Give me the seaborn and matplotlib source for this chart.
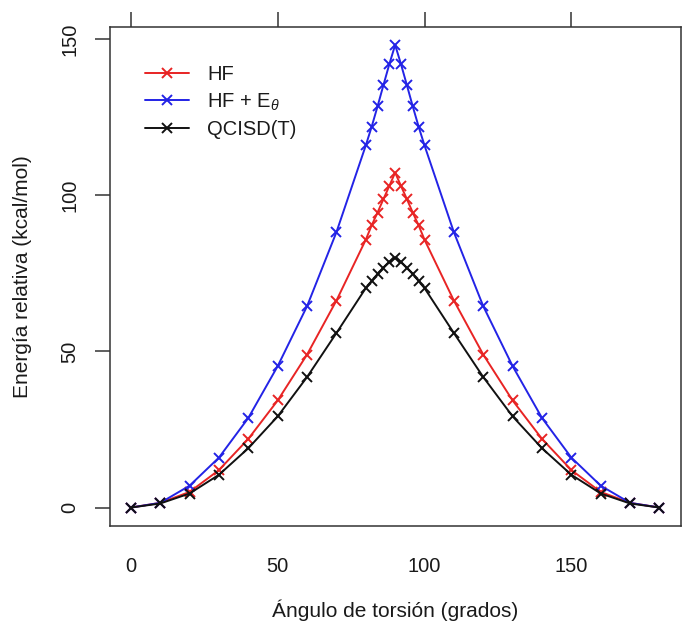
import matplotlib
matplotlib.use("Agg")
import matplotlib.pyplot as plt
import seaborn as sns
import pandas as pd

angles = [0, 10, 20, 30, 40, 50, 60, 70, 80, 82, 84, 86, 88, 90,
          92, 94, 96, 98, 100, 110, 120, 130, 140, 150, 160, 170, 180]
hf_left = [0, 1.5, 5, 12, 22, 34.3, 49, 66.3, 85.8, 90.4, 94.5, 98.8, 103, 107.3]
hfe_left = [0, 1.5, 7, 16, 28.7, 45.3, 64.5, 88.2, 116, 122, 128.5, 135.3, 142, 148.2]
qc_left = [0, 1.3, 4.5, 10.5, 19, 29.2, 41.8, 55.9, 70.3, 72.6, 74.8, 76.8, 78.6, 80.1]
hf = hf_left + hf_left[-2::-1]
hfe = hfe_left + hfe_left[-2::-1]
qc = qc_left + qc_left[-2::-1]

series_names = ["HF", r"HF + E$_{\theta}$", "QCISD(T)"]
series_values = [hf, hfe, qc]
series_colors = ["#e82424", "#2323e6", "#111111"]

sns.set_style("white")
plt.rcParams["font.family"] = ["Liberation Sans", "DejaVu Sans"]
plt.rcParams["mathtext.fontset"] = "custom"
plt.rcParams["mathtext.rm"] = "Liberation Sans"
plt.rcParams["mathtext.it"] = "Liberation Sans:italic"
plt.rcParams["text.color"] = "#1a1a1a"
plt.rcParams["axes.labelcolor"] = "#1a1a1a"
plt.rcParams["xtick.color"] = "#333333"
plt.rcParams["ytick.color"] = "#333333"
plt.rcParams["xtick.labelcolor"] = "#1a1a1a"
plt.rcParams["ytick.labelcolor"] = "#1a1a1a"

fig = plt.figure(figsize=(6.83, 6.26), dpi=100)
ax = fig.add_axes([0.1606, 0.1597, 0.8359, 0.797])

for name, vals, col in zip(series_names, series_values, series_colors):
    df = pd.DataFrame({"x": angles, "y": vals})
    sns.lineplot(data=df, x="x", y="y", ax=ax, color=col, marker="x",
                 markersize=7.5, markeredgewidth=1.4, linewidth=1.4,
                 markeredgecolor=col, label=name)

ax.set_xlim(-7.2, 187.2)
ax.set_ylim(-5.92, 153.92)
ax.set_xticks([0, 50, 100, 150])
ax.set_yticks([0, 50, 100, 150])
ax.tick_params(axis="both", direction="out", length=11, width=1.1,
               labelsize=14.5, pad=11)
ax.tick_params(axis="x", top=True, labeltop=False)
ax.tick_params(axis="y", left=True)
for lab in ax.get_yticklabels():
    lab.set_rotation(90)
    lab.set_va("center")
for sp in ax.spines.values():
    sp.set_color("#333333")
    sp.set_linewidth(1.1)

ax.set_xlabel("Ángulo de torsión (grados)", fontsize=15, labelpad=17)
ax.set_ylabel("Energía relativa (kcal/mol)", fontsize=15, labelpad=20)

leg = ax.legend(loc="upper left", bbox_to_anchor=(0.03, 0.96), frameon=False,
                fontsize=14.5, handlelength=2.2, labelspacing=0.35,
                handletextpad=0.9)

fig.savefig("out.png", dpi=100)
